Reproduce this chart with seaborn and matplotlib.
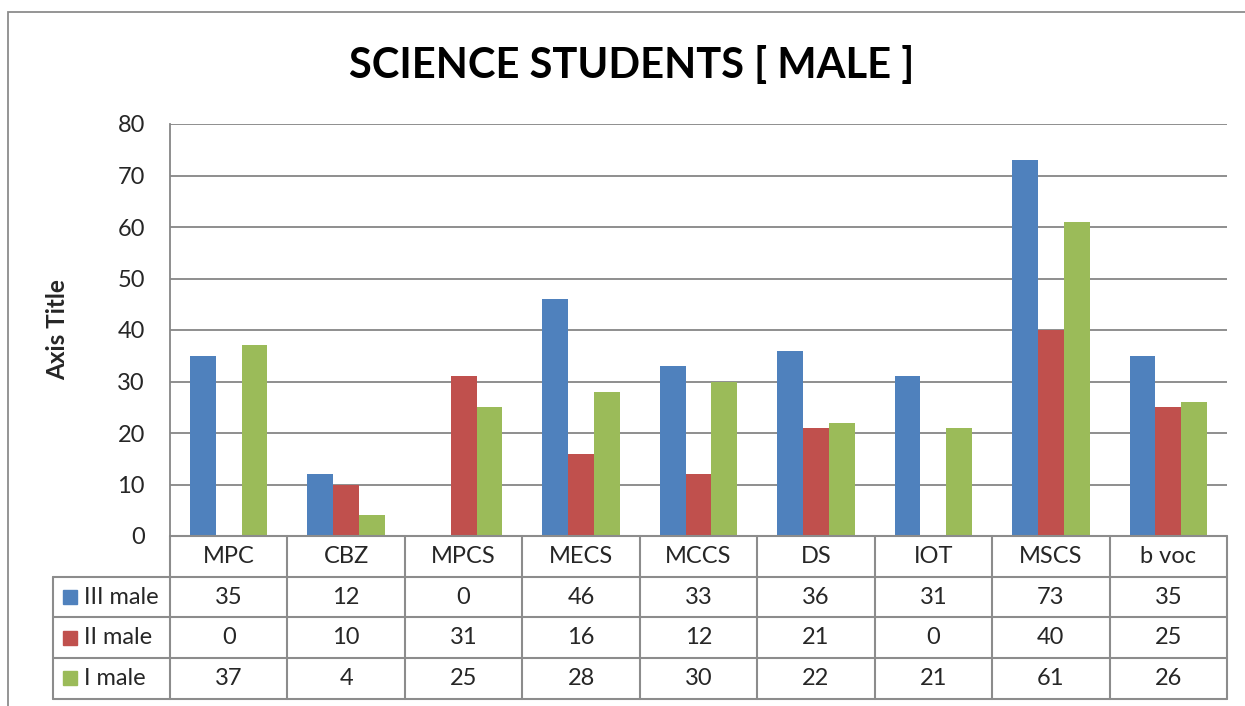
import matplotlib
matplotlib.use("Agg")
import matplotlib.pyplot as plt
import seaborn as sns
import pandas as pd
from matplotlib.lines import Line2D
from matplotlib.patches import Rectangle

# chart data
courses = ["MPC", "CBZ", "MPCS", "MECS", "MCCS", "DS", "IOT", "MSCS", "b voc"]
series = ["III male", "II male", "I male"]
iii_male = [35, 12, 0, 46, 33, 36, 31, 73, 35]
ii_male = [0, 10, 31, 16, 12, 21, 0, 40, 25]
i_male = [37, 4, 25, 28, 30, 22, 21, 61, 26]
colors = ["#4F81BD", "#C0504D", "#9BBB59"]
yticks = [0, 10, 20, 30, 40, 50, 60, 70, 80]

values = [iii_male, ii_male, i_male]
df = pd.DataFrame({
    "course": courses * 3,
    "year": [s for s in series for _ in courses],
    "count": iii_male + ii_male + i_male,
})

sns.set_style("white")
plt.rcParams["font.family"] = ["Lato", "DejaVu Sans"]

W, H = 1245, 706
fig = plt.figure(figsize=(W / 100, H / 100), dpi=100)
left, right, top, bottom = 170, 1227, 124, 536
ax = fig.add_axes([left / W, 1 - bottom / H, (right - left) / W, (bottom - top) / H])

sns.barplot(data=df, x="course", y="count", hue="year", hue_order=series,
            order=courses, palette=colors, saturation=1, width=0.66, gap=0,
            edgecolor="none", linewidth=0, ax=ax, legend=False)

grid_col = "#868686"
fs = 17
ax.set_ylim(0, 80)
ax.set_xlim(-0.5, len(courses) - 0.5)
ax.set_yticks(yticks)
ax.set_yticklabels([str(v) for v in yticks], fontsize=fs)
ax.tick_params(axis="y", length=0, pad=18)
ax.set_xticks([])
ax.set_xlabel("")
ax.set_ylabel("")
ax.yaxis.grid(True, color=grid_col, linewidth=1.3)
ax.set_axisbelow(True)
for s in ["top", "right", "bottom"]:
    ax.spines[s].set_visible(False)
ax.spines["left"].set_color(grid_col)
ax.spines["left"].set_linewidth(1.3)

# data table under the axes
trans = ax.get_xaxis_transform()
rh = 40.7 / (bottom - top)
tab_left = -1.5
xr = len(courses) - 0.5
lw = 1.5
tcol = "#8C8C8C"

def hline(x0, x1, y):
    ax.add_line(Line2D([x0, x1], [y, y], transform=trans, color=tcol, lw=lw, clip_on=False))

def vline(x, y0, y1):
    ax.add_line(Line2D([x, x], [y0, y1], transform=trans, color=tcol, lw=lw, clip_on=False))

hline(-0.5, xr, 0)
for r in range(1, 5):
    hline(tab_left, xr, -r * rh)
vline(tab_left, -rh, -4 * rh)
for c in range(len(courses) + 1):
    vline(c - 0.5, 0, -4 * rh)

for i, name in enumerate(courses):
    ax.text(i, -0.5 * rh, name, transform=trans, ha="center", va="center", fontsize=fs)
for r, (name, vals, col) in enumerate(zip(series, values, colors)):
    yc = -(r + 1.5) * rh
    ax.add_patch(Rectangle((-1.415, yc - 0.017), 0.12, 0.034, transform=trans,
                           color=col, clip_on=False))
    ax.text(-1.235, yc, name, transform=trans, ha="left", va="center", fontsize=fs)
    for i, v in enumerate(vals):
        ax.text(i, yc, str(v), transform=trans, ha="center", va="center", fontsize=fs)

fig.text(632 / W, 1 - 65 / H, "SCIENCE STUDENTS [ MALE ]", ha="center", va="center",
         fontsize=30, fontweight="bold", color="black")
fig.text(58 / W, 1 - 330 / H, "Axis Title", ha="center", va="center", rotation=90,
         fontsize=17.5, fontweight="bold")

# outer chart frame (cut off at right and bottom like the original)
fig.add_artist(Rectangle((8 / W, -0.05), 1.1, 1 - 12 / H + 0.05, transform=fig.transFigure,
                         fill=False, edgecolor="#8C8C8C", lw=1.3))

fig.savefig("out.png", dpi=100, facecolor="white")
